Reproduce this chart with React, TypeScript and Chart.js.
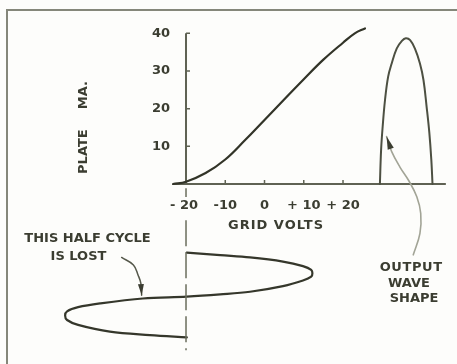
import { useEffect, useRef } from "react";
import { Chart, registerables } from "chart.js";

Chart.register(...registerables);

// Plate current characteristic of the tube (grid volts -> plate mA)
const gridVolts = [-23.3, -20, -15, -10, -5, 0, 5, 10, 15, 20, 23, 25.6];
const plateMa = [0, 0.6, 2.9, 6.5, 11.6, 17, 22.4, 27.8, 33, 37.5, 40.0, 41.3];

// Half-wave output pulse drawn beside the characteristic
const outputTime = [29.4, 29.7, 30.1, 30.7, 31.5, 32.4, 33.7, 35.0, 36.0, 37.1, 38.3, 39.6, 40.5, 41.3, 42.0, 42.5, 42.8];
const outputMa = [0, 9, 15.2, 22.3, 28.5, 32, 36, 38, 38.7, 38.2, 36, 32, 27.6, 20.5, 13.5, 6.4, 0];

// Grid signal swinging about the -20 V bias, time running downward
const signalVolts = [
  -19.8, -11.3, -3.7, 4.7, 9.8, 11.9, 12.2, 11.9, 9.8, 4.7, -3.7, -11.3, -19.8,
  -31.0, -41.9, -47.5, -50.3, -50.8, -50.3, -47.5, -39.4, -29.2, -19.8,
];
const signalTime = [
  -18.2, -18.9, -19.5, -20.6, -21.8, -22.8, -23.7, -24.6, -25.6, -27.1, -28.6, -29.3, -29.9,
  -30.4, -31.7, -32.7, -33.8, -34.9, -36.1, -37.4, -39.2, -40.1, -40.7,
];

// Bias reference line dropped from the -20 V point
const biasVolts = [-20, -20];
const biasTime = [-1.1, -44.1];

// Leader lines for the notes (last point is the arrow tip)
const outputLeaderVolts = [37.9, 39.6, 39.8, 38.8, 36.8, 34.5, 32.4, 31.1];
const outputLeaderMa = [-18.8, -13.1, -7.8, -3.4, 0.8, 4.5, 8.6, 12.6];
const lostLeaderVolts = [-36.4, -33.4, -32.2, -31.5, -31.3];
const lostLeaderMa = [-19.5, -21.5, -24.2, -26.4, -29.5];

// Axis ticks
const voltTicks = [-20, -10, 0, 10, 20];
const voltTickLabels = ["- 20", "-10", "0", "+ 10", "+ 20"];
const maTicks = [10, 20, 30, 40];
const maTickLabels = ["10", "20", "30", "40"];

// Extent of the drawn axes
const voltAxisRange = [-23.3, 46.2];
const maAxisRange = [0, 40];
const biasVolt = -20;

const INK = "#3b3d31";
const AXIS_INK = "#5f6253";
const FRAME_INK = "#85877a";
const LEADER_INK = "#a2a496";
const PAPER = "#fdfdfb";
const FONT = "bold 13px 'DejaVu Sans', 'Liberation Sans', sans-serif";

type Note = { text: string; v: number; ma: number; rotate?: boolean; spacing?: number };
const notes: Note[] = [
  { text: "MA.", v: -46.2, ma: 23.6, rotate: true },
  { text: "PLATE", v: -46.2, ma: 8.6, rotate: true },
  { text: "GRID VOLTS", v: 2.8, ma: -11.15, spacing: 1 },
  { text: "THIS HALF CYCLE", v: -45.1, ma: -14.5 },
  { text: "IS LOST", v: -47.4, ma: -19.3 },
  { text: "OUTPUT", v: 37.3, ma: -22.3, spacing: 0.6 },
  { text: "WAVE", v: 36.8, ma: -26.5 },
  { text: "SHAPE", v: 38.1, ma: -30.3 },
];

const pts = (xs: number[], ys: number[]) => xs.map((x, i) => ({ x, y: ys[i] }));

function arrowHead(ctx: CanvasRenderingContext2D, fx: number, fy: number, tx: number, ty: number, len: number, half: number) {
  const a = Math.atan2(ty - fy, tx - fx);
  const bx = tx - len * Math.cos(a);
  const by = ty - len * Math.sin(a);
  ctx.beginPath();
  ctx.moveTo(tx, ty);
  ctx.lineTo(bx + half * Math.sin(a), by - half * Math.cos(a));
  ctx.lineTo(bx - half * Math.sin(a), by + half * Math.cos(a));
  ctx.closePath();
  ctx.fillStyle = INK;
  ctx.fill();
}

const diagramPlugin = {
  id: "tubeDiagram",
  beforeDatasetsDraw(chart: any) {
    const { ctx, chartArea } = chart;
    const xs = chart.scales.x;
    const ys = chart.scales.y;
    ctx.save();
    ctx.fillStyle = PAPER;
    ctx.fillRect(chartArea.left, chartArea.top, chartArea.right - chartArea.left, chartArea.bottom - chartArea.top);

    // paper frame
    ctx.strokeStyle = FRAME_INK;
    ctx.lineWidth = 2;
    ctx.beginPath();
    ctx.moveTo(chartArea.left + 7, chartArea.bottom);
    ctx.lineTo(chartArea.left + 7, chartArea.top + 10);
    ctx.lineTo(chartArea.right, chartArea.top + 10);
    ctx.stroke();

    // axes
    const yZero = ys.getPixelForValue(0);
    const xBias = xs.getPixelForValue(biasVolt);
    ctx.strokeStyle = AXIS_INK;
    ctx.lineWidth = 2;
    ctx.beginPath();
    ctx.moveTo(xs.getPixelForValue(voltAxisRange[0]), yZero);
    ctx.lineTo(xs.getPixelForValue(voltAxisRange[1]), yZero);
    ctx.moveTo(xBias, ys.getPixelForValue(maAxisRange[0]));
    ctx.lineTo(xBias, ys.getPixelForValue(maAxisRange[1]));
    ctx.stroke();

    ctx.lineWidth = 1.5;
    ctx.beginPath();
    voltTicks.forEach((v) => {
      if (v === biasVolt) return;
      const px = xs.getPixelForValue(v);
      ctx.moveTo(px, yZero);
      ctx.lineTo(px, yZero - 4);
    });
    maTicks.forEach((m) => {
      const py = ys.getPixelForValue(m);
      ctx.moveTo(xBias, py);
      ctx.lineTo(xBias + 4, py);
    });
    ctx.stroke();
    ctx.restore();
  },
  afterDatasetsDraw(chart: any) {
    const { ctx } = chart;
    const xs = chart.scales.x;
    const ys = chart.scales.y;
    const yZero = ys.getPixelForValue(0);
    const xBias = xs.getPixelForValue(biasVolt);
    ctx.save();

    // arrow heads at the ends of the leaders
    const tip = (vs: number[], ms: number[], len: number, half: number) => {
      const n = vs.length;
      arrowHead(
        ctx,
        xs.getPixelForValue(vs[n - 2]), ys.getPixelForValue(ms[n - 2]),
        xs.getPixelForValue(vs[n - 1]), ys.getPixelForValue(ms[n - 1]),
        len, half
      );
    };
    tip(outputLeaderVolts, outputLeaderMa, 13, 3.2);
    tip(lostLeaderVolts, lostLeaderMa, 11, 3);

    ctx.font = FONT;
    ctx.fillStyle = INK;
    ctx.textBaseline = "middle";

    // grid volt tick labels (cleared behind so the bias line breaks)
    ctx.textAlign = "center";
    voltTicks.forEach((v, i) => {
      const px = xs.getPixelForValue(v);
      const py = yZero + 22;
      const w = ctx.measureText(voltTickLabels[i]).width;
      ctx.fillStyle = PAPER;
      ctx.fillRect(px - w / 2 - 2, py - 9, w + 4, 18);
      ctx.fillStyle = INK;
      ctx.fillText(voltTickLabels[i], px - (v === biasVolt ? 2 : 0), py);
    });

    // plate current tick labels
    ctx.textAlign = "right";
    maTicks.forEach((m, i) => {
      ctx.fillText(maTickLabels[i], xBias - 16, ys.getPixelForValue(m));
    });

    // notes
    ctx.textAlign = "center";
    notes.forEach((n) => {
      const px = xs.getPixelForValue(n.v);
      const py = ys.getPixelForValue(n.ma);
      (ctx as any).letterSpacing = `${n.spacing ?? 0}px`;
      if (n.rotate) {
        ctx.save();
        ctx.translate(px, py);
        ctx.rotate(-Math.PI / 2);
        ctx.fillText(n.text, 0, 0);
        ctx.restore();
      } else {
        ctx.fillText(n.text, px + (n.spacing ?? 0) / 2, py);
      }
    });
    (ctx as any).letterSpacing = "0px";
    ctx.restore();
  },
};

export default function App() {
  const canvasRef = useRef<HTMLCanvasElement | null>(null);

  useEffect(() => {
    if (!canvasRef.current) return;
    const line = (data: { x: number; y: number }[], color: string, width: number, extra: object = {}) => ({
      data,
      showLine: true,
      borderColor: color,
      borderWidth: width,
      pointRadius: 0,
      pointHoverRadius: 0,
      fill: false,
      borderCapStyle: "round",
      borderJoinStyle: "round",
      ...extra,
    });

    const chart = new Chart(canvasRef.current, {
      type: "scatter",
      data: {
        datasets: [
          line(pts(gridVolts, plateMa), "#323428", 2.2, { tension: 0.4 }),
          line(pts(outputTime, outputMa), "#4d5042", 2, { tension: 0.4 }),
          line(pts(biasVolts, biasTime), "#6a6d5d", 1.5, { borderDash: [26, 6], borderCapStyle: "butt" }),
          line(pts(signalVolts, signalTime), "#35372b", 2.2, { tension: 0.35 }),
          line(pts(outputLeaderVolts, outputLeaderMa), LEADER_INK, 1.6, { tension: 0.4 }),
          line(pts(lostLeaderVolts, lostLeaderMa), "#55584a", 1.5, { tension: 0.4 }),
        ] as any,
      },
      options: {
        responsive: false,
        animation: false,
        events: [],
        layout: { padding: 0 },
        plugins: {
          legend: { display: false },
          tooltip: { enabled: false },
        },
        scales: {
          x: { type: "linear", min: -67.39, max: 49.04, display: false },
          y: { type: "linear", min: -47.78, max: 48.84, display: false },
        },
      },
      plugins: [diagramPlugin],
    });
    return () => chart.destroy();
  }, []);

  return (
    <div style={{ position: "absolute", left: 0, top: 0, width: 457, height: 364, background: PAPER }}>
      <canvas ref={canvasRef} width={457} height={364} style={{ display: "block" }} />
    </div>
  );
}
